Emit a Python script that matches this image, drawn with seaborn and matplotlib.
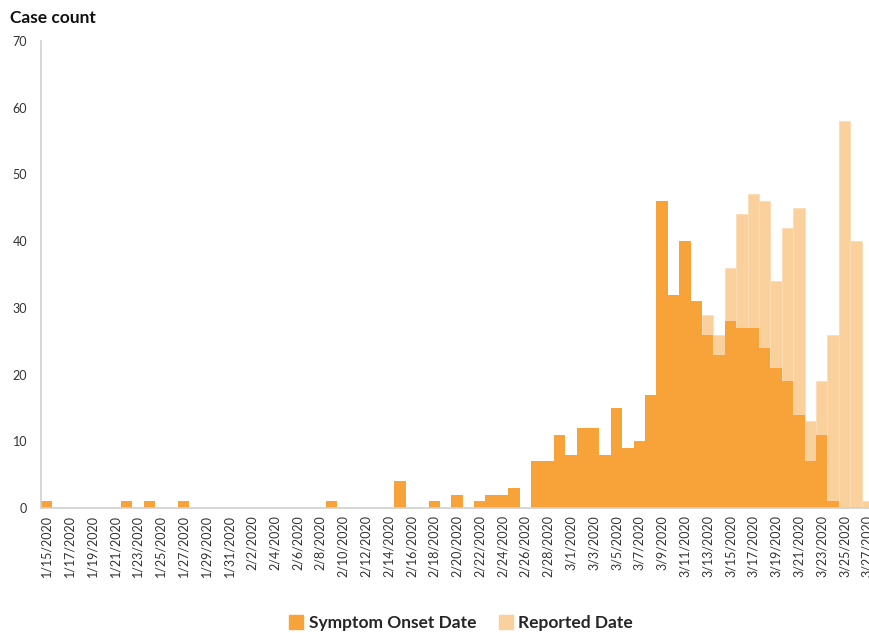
import pandas as pd
import matplotlib.pyplot as plt
import seaborn as sns
from matplotlib.patches import Patch

# daily categories 1/15/2020 .. 3/27/2020
dates = pd.date_range("2020-01-15", "2020-03-27")
date_labels = [f"{d.month}/{d.day}/{d.year}" for d in dates]

# Symptom onset date counts
onset = [1, 0, 0, 0, 0, 0, 0, 1, 0, 1, 0, 0, 1,
         0, 0, 0, 0, 0, 0, 0, 0, 0, 0, 0, 0,
         1, 0, 0, 0, 0, 0, 4, 0, 0, 1, 0, 2, 0, 1, 2, 2, 3, 0,
         7, 7, 11,
         8, 12, 12, 8, 15, 9, 10, 17, 46, 32, 40, 31, 26, 23, 28, 27, 27,
         24, 21, 19, 14, 7, 11, 1, 0, 0, 0]

# Reported date counts (only visible part, hidden values left at 0)
reported = [0] * 58 + [29, 26, 36, 44, 47, 46, 34, 42, 45, 13, 19, 26, 58, 40, 1]

df = pd.DataFrame({"date": date_labels, "onset": onset, "reported": reported})

dark = "#F8A23A"
light = "#FAD09C"

sns.set_style("white")
plt.rcParams["font.family"] = ["Lato", "DejaVu Sans"]

fig = plt.figure(figsize=(8.7, 6.33), dpi=100)
ax = fig.add_axes([41 / 870, 1 - 508 / 633, 832 / 870, 467 / 633])

sns.barplot(data=df, x="date", y="reported", color=light, width=1.0,
            saturation=1, ax=ax, edgecolor="#FBDDB4", linewidth=0.6)
sns.barplot(data=df, x="date", y="onset", color=dark, width=1.0,
            saturation=1, ax=ax, linewidth=0)

ax.set_xlim(-0.5, len(dates) - 0.5)
ax.set_ylim(0, 70)
ax.set_yticks(range(0, 71, 10))
ax.set_xlabel("")
ax.set_ylabel("")

# labels every second day, tick marks on category boundaries
ax.set_xticks(range(0, len(dates), 2))
ax.set_xticklabels(date_labels[::2], rotation=90, fontsize=9, color="#333333")
ax.set_xticks([i - 0.5 for i in range(0, len(dates), 2)], minor=True)
ax.tick_params(axis="x", which="major", length=0, pad=5)
ax.tick_params(axis="x", which="minor", length=5, color="#D0D0D0", width=1)
ax.tick_params(axis="y", length=4, color="#D0D0D0", labelsize=9,
               labelcolor="#333333", pad=6)

for side in ["top", "right"]:
    ax.spines[side].set_visible(False)
for side in ["left", "bottom"]:
    ax.spines[side].set_color("#D0D0D0")
    ax.spines[side].set_linewidth(1.2)

fig.text(10 / 870, 1 - 18 / 633, "Case count", fontsize=12.5, fontweight="bold",
         va="center", ha="left", color="#111111")

handles = [Patch(color=dark, label="Symptom Onset Date"),
           Patch(color=light, label="Reported Date")]
fig.legend(handles=handles, loc="center", bbox_to_anchor=(461 / 870, 1 - 623 / 633),
           ncol=2, frameon=False, handlelength=0.8, handleheight=0.8,
           handletextpad=0.3, columnspacing=1.3,
           prop={"size": 12.5, "weight": "bold"})

fig.savefig("out.png", dpi=100)
